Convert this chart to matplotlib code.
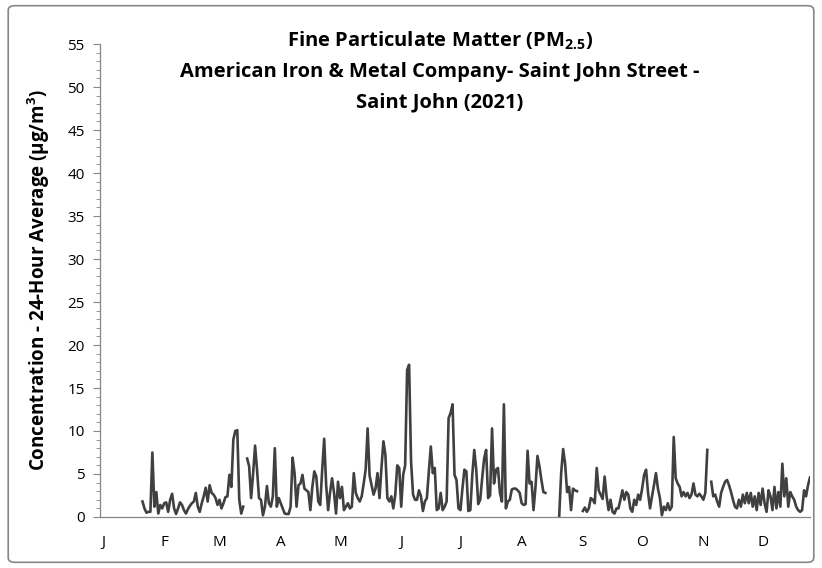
import numpy as np
import pandas as pd
import matplotlib
matplotlib.use("Agg")
import matplotlib.pyplot as plt
import matplotlib.dates as mdates
from matplotlib.ticker import MultipleLocator, FuncFormatter
from matplotlib.patches import FancyBboxPatch

nan = np.nan

# daily 24-h averages, first value on 2021-01-21, nan = no data
first_day = "2021-01-21"
pm25 = [
    1.8, 1.0, 0.5, 0.6, 0.6, 7.5, 1.2, 2.9, 0.4,
    1.4, 1.0, 1.6, 1.7, 0.6, 2.0, 2.7, 1.0, 0.35, 1.0,
    1.7, 1.4, 0.8, 0.4, 0.9, 1.3, 1.6, 1.8, 2.8, 1.2,
    0.6, 1.6, 2.4, 3.4, 1.8, 3.7, 2.8, 2.6, 2.2, 1.4,
    2.0, 1.0, 1.6, 2.3, 2.4, 4.9, 3.5, 9.0, 10.0, 10.1,
    2.0, 0.4, 1.2, nan,
    6.8, 5.9, 2.2, 5.0, 8.3, 5.5, 2.2, 2.0, 0.2, 1.2,
    3.6, 1.6, 1.2, 2.4, 8.0, 1.2, 2.2, 1.6, 1.0, 0.4,
    0.35, 0.35, 1.2, 6.9,
    5.1, 1.2, 3.7, 3.9, 4.9, 3.3, 3.1, 2.9, 0.8, 3.5,
    5.3, 4.7, 1.8, 1.4, 5.5, 9.1, 3.7, 0.8, 2.9, 4.5,
    2.8, 0.4, 4.1, 2.2, 3.5, 0.8, 1.2, 1.6, 1.0, 1.2,
    5.1, 2.8, 2.2, 1.8, 2.4, 3.9, 5.5, 10.3, 4.8,
    3.7, 2.6, 3.3, 5.1, 2.2, 5.7, 8.8, 7.2, 2.2, 1.8,
    2.4, 1.0, 2.6, 6.0, 5.7, 1.2, 4.9, 6.0, 17.1, 17.7,
    6.4, 2.6, 2.0, 2.0, 3.1, 2.4, 0.7, 1.8, 2.2, 5.3,
    8.2, 5.1, 5.7, 0.8, 1.0, 2.8, 0.8, 1.2, 1.8, 11.5,
    12.1, 13.1, 4.9, 4.3, 1.0, 0.8, 3.3, 5.5, 5.3, 0.7,
    0.8, 4.9, 7.8, 5.5, 1.5, 2.0, 4.5, 6.8, 7.8, 2.2,
    2.5, 10.3, 3.9, 5.5, 5.7, 2.8, 1.8, 13.1, 1.0, 1.8,
    2.0, 3.2, 3.3, 3.3, 3.1, 2.8, 1.6, 1.4, 1.5, 7.7,
    3.9, 4.1, 0.8, 3.5, 7.1, 5.9, 4.3, 2.9, 2.8,
    nan, nan, nan, nan, nan, nan,
    0.1, 5.1, 7.9, 6.2, 2.9, 3.5, 0.8, 3.3, 3.1, 3.0,
    nan, nan,
    0.7, 1.1, 0.6, 1.0, 2.2, 2.0, 1.6, 5.7, 3.1, 2.6,
    2.1, 4.7, 2.4, 0.8, 2.0,
    0.6, 0.4, 1.0, 1.0, 2.0, 3.1, 2.0, 2.9, 2.6, 1.0,
    0.6, 2.0, 1.4, 2.6, 2.0, 3.3, 4.9, 5.5, 2.8, 1.0,
    2.4, 3.7, 5.1, 3.3, 2.2, 0.2, 1.2, 0.8, 1.6, 0.8,
    1.2, 9.3,
    4.5, 3.9, 3.5, 2.4, 2.9, 2.4, 2.8, 2.2, 2.6, 3.9,
    2.6, 2.4, 2.7, 2.4, 2.0, 2.8, 7.8, nan,
    4.1, 2.4, 2.6, 1.8, 1.2, 2.8, 3.5, 4.1, 4.3, 3.7,
    2.9, 2.0, 1.2, 1.0, 2.0, 1.2, 2.6, 1.6, 2.8, 1.6,
    2.8, 1.2, 2.4, 0.8, 2.8, 1.4, 3.3, 1.6, 0.6, 3.1,
    2.4, 0.8, 3.5, 1.0, 2.9, 1.2, 6.2, 2.4, 4.5, 1.2,
    2.9, 2.4, 2.0, 1.2, 0.8, 0.6, 0.8, 3.1, 2.4, 3.7,
    4.6,
]

month_labels = ["J", "F", "M", "A", "M", "J", "J", "A", "S", "O", "N", "D"]

title = ("Fine Particulate Matter (PM$_{\\mathbf{2.5}}$)\n"
         "American Iron & Metal Company- Saint John Street -\n"
         "Saint John (2021)")
ylabel = "Concentration - 24-Hour Average (\u00b5g/m$^{\\mathbf{3}}$)"

plt.rcParams["font.family"] = ["Open Sans", "DejaVu Sans"]
plt.rcParams["mathtext.fontset"] = "custom"
plt.rcParams["mathtext.rm"] = "Open Sans"
plt.rcParams["mathtext.bf"] = "Open Sans:bold"

dates = pd.date_range(first_day, periods=len(pm25), freq="D")
df = pd.DataFrame({"date": dates, "pm25": pm25})

fig = plt.figure(figsize=(8.22, 5.68), dpi=100)
ax = fig.add_axes([0.1217, 0.0898, 0.8637, 0.8327])
ax.plot(df["date"], df["pm25"], color="#404040", lw=1.9)

ax.set_ylim(0, 55)
ax.yaxis.set_major_locator(MultipleLocator(5))
ax.yaxis.set_minor_locator(MultipleLocator(1))
ax.set_xlim(pd.Timestamp("2020-12-30 12:00"), pd.Timestamp("2021-12-25"))
ax.xaxis.set_major_locator(mdates.MonthLocator())
ax.xaxis.set_major_formatter(FuncFormatter(lambda v, p: month_labels[mdates.num2date(v).month - 1]))

for s in ["top", "right"]:
    ax.spines[s].set_visible(False)
for s in ["left", "bottom"]:
    ax.spines[s].set_color("#868686")
    ax.spines[s].set_linewidth(0.9)
ax.tick_params(axis="y", which="major", length=5, width=0.8, color="#868686", labelsize=11, pad=6)
ax.tick_params(axis="y", which="minor", length=3, width=0.6, color="#868686")
ax.tick_params(axis="x", length=0, labelsize=11, pad=13)

ax.set_ylabel(ylabel, fontsize=13.5, fontweight="bold", labelpad=11)
fig.text(0.535, 0.948, title, ha="center", va="top", fontsize=14.5, fontweight="bold",
         linespacing=1.68)

border = FancyBboxPatch((0.01, 0.01), 0.98, 0.98, boxstyle="round,pad=0,rounding_size=0.008",
                        transform=fig.transFigure, fill=False, edgecolor="#868686", lw=1.2)
fig.patches.append(border)

fig.savefig("out.png", dpi=100)
